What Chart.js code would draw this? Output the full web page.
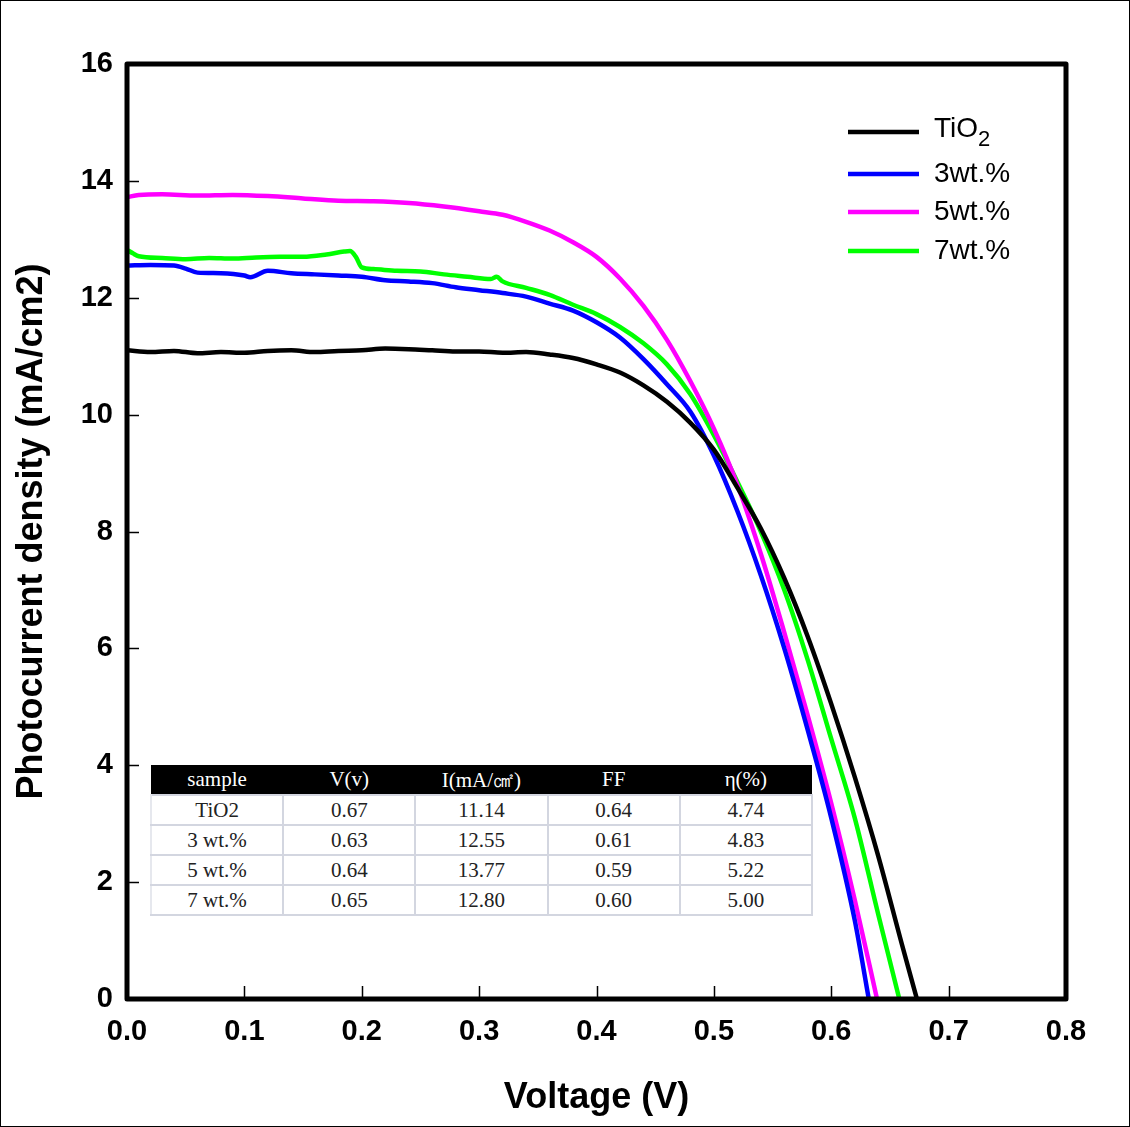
<!DOCTYPE html>
<html>
<head>
<meta charset="utf-8">
<script src="https://cdn.jsdelivr.net/npm/chart.js@4/dist/chart.umd.min.js"></script>
<style>
  html, body { margin: 0; padding: 0; background: #fff; }
  #wrap { position: relative; width: 1130px; height: 1127px; }
  #chart { position: absolute; left: 0; top: 0; }
  #params {
    position: absolute; left: 150px; top: 765px; width: 663px;
    border-collapse: collapse; background: #fff;
    font-family: "Liberation Serif", "Times New Roman", serif; font-size: 21px; color: #222;
  }
  #params th, #params td { text-align: center; padding: 0; width: 20%; }
  #params th { background: #000; color: #fff; font-weight: normal; height: 29px; }
  #params td { height: 28px; border: 2px solid #d3d6e0; }
  #params tr td:first-child { border-left: 2px solid #e6e8ee; }
</style>
</head>
<body>
<div id="wrap">
  <canvas id="chart" width="1130" height="1127"></canvas>
  <table id="params">
    <thead><tr id="paramHead"></tr></thead>
    <tbody id="paramBody"></tbody>
  </table>
</div>
<script>
// J-V curves (V in volts, J in mA/cm2)
const seriesNames = ["TiO2", "3wt.%", "5wt.%", "7wt.%"];
const seriesColors = ["#000000", "#0000ff", "#ff00ff", "#00ff00"];

const tio2V = [0, 0.02, 0.04, 0.06, 0.08, 0.10, 0.12, 0.14, 0.16, 0.18, 0.20, 0.22, 0.24, 0.26, 0.28, 0.30, 0.32, 0.34, 0.36, 0.38, 0.40, 0.42, 0.44, 0.46, 0.48, 0.50, 0.52, 0.54, 0.56, 0.58, 0.60, 0.62, 0.64, 0.66, 0.673];
const tio2J = [11.10, 11.07, 11.09, 11.05, 11.07, 11.06, 11.09, 11.10, 11.07, 11.09, 11.10, 11.13, 11.12, 11.10, 11.08, 11.08, 11.06, 11.07, 11.03, 10.97, 10.86, 10.72, 10.50, 10.22, 9.86, 9.40, 8.75, 8.05, 7.20, 6.20, 5.05, 3.80, 2.45, 0.95, 0];

const wt3V = [0, 0.02, 0.04, 0.05, 0.06, 0.08, 0.10, 0.105, 0.12, 0.14, 0.16, 0.18, 0.20, 0.22, 0.24, 0.26, 0.28, 0.30, 0.32, 0.34, 0.36, 0.38, 0.40, 0.42, 0.44, 0.46, 0.48, 0.50, 0.52, 0.54, 0.56, 0.58, 0.60, 0.62, 0.632];
const wt3J = [12.55, 12.56, 12.55, 12.50, 12.43, 12.42, 12.38, 12.35, 12.46, 12.42, 12.40, 12.38, 12.36, 12.30, 12.28, 12.25, 12.18, 12.13, 12.08, 12.02, 11.90, 11.78, 11.58, 11.32, 10.95, 10.52, 10.05, 9.30, 8.35, 7.25, 6.00, 4.60, 3.10, 1.35, 0];

const wt5V = [0, 0.01, 0.03, 0.06, 0.09, 0.12, 0.15, 0.18, 0.21, 0.24, 0.27, 0.30, 0.32, 0.34, 0.36, 0.38, 0.40, 0.42, 0.44, 0.46, 0.48, 0.50, 0.52, 0.54, 0.56, 0.58, 0.60, 0.62, 0.639];
const wt5J = [13.72, 13.76, 13.77, 13.75, 13.76, 13.74, 13.70, 13.66, 13.65, 13.62, 13.56, 13.48, 13.42, 13.30, 13.15, 12.95, 12.70, 12.33, 11.86, 11.28, 10.57, 9.76, 8.80, 7.62, 6.27, 4.85, 3.35, 1.70, 0];

const wt7V = [0, 0.005, 0.01, 0.03, 0.05, 0.07, 0.09, 0.11, 0.13, 0.15, 0.17, 0.185, 0.19, 0.195, 0.20, 0.21, 0.23, 0.25, 0.27, 0.29, 0.31, 0.315, 0.32, 0.34, 0.36, 0.38, 0.40, 0.42, 0.44, 0.46, 0.48, 0.50, 0.52, 0.54, 0.56, 0.58, 0.60, 0.62, 0.64, 0.658];
const wt7J = [12.82, 12.76, 12.71, 12.68, 12.66, 12.68, 12.67, 12.69, 12.70, 12.70, 12.74, 12.79, 12.80, 12.70, 12.52, 12.49, 12.46, 12.45, 12.40, 12.36, 12.32, 12.36, 12.28, 12.17, 12.05, 11.88, 11.72, 11.50, 11.22, 10.86, 10.35, 9.65, 8.85, 8.00, 7.00, 5.80, 4.45, 3.10, 1.45, 0];

const voltages = [tio2V, wt3V, wt5V, wt7V];
const currents = [tio2J, wt3J, wt5J, wt7J];

// inset table
const tableHeader = ["sample", "V(v)", "I(mA/㎠)", "FF", "η(%)"];
const tableSamples = ["TiO2", "3 wt.%", "5 wt.%", "7 wt.%"];
const tableVoc = ["0.67", "0.63", "0.64", "0.65"];
const tableJsc = ["11.14", "12.55", "13.77", "12.80"];
const tableFF = ["0.64", "0.61", "0.59", "0.60"];
const tableEff = ["4.74", "4.83", "5.22", "5.00"];

const xTicksMin = 0, xTicksMax = 0.8, xStep = 0.1;
const yTicksMin = 0, yTicksMax = 16, yStep = 2;

const SANS = '"Liberation Sans", Arial, sans-serif';

document.getElementById("paramHead").innerHTML = tableHeader.map((h) => `<th>${h}</th>`).join("");
document.getElementById("paramBody").innerHTML = tableSamples
  .map((s, i) => `<tr><td>${s}</td><td>${tableVoc[i]}</td><td>${tableJsc[i]}</td><td>${tableFF[i]}</td><td>${tableEff[i]}</td></tr>`)
  .join("");

const framePlugin = {
  id: "frame",
  afterDatasetsDraw(chart) {
    const { ctx, chartArea: a, scales } = chart;
    ctx.save();
    ctx.strokeStyle = "#000";
    // inward ticks, bottom and left only
    ctx.lineWidth = 1.5;
    ctx.beginPath();
    scales.x.ticks.forEach((t) => {
      if (t.value <= xTicksMin || t.value >= xTicksMax - 1e-9) return;
      const px = Math.round(scales.x.getPixelForValue(t.value)) + 0.5;
      ctx.moveTo(px, a.bottom);
      ctx.lineTo(px, a.bottom - 13);
    });
    scales.y.ticks.forEach((t) => {
      if (t.value <= yTicksMin || t.value >= yTicksMax) return;
      const py = Math.round(scales.y.getPixelForValue(t.value)) + 0.5;
      ctx.moveTo(a.left, py);
      ctx.lineTo(a.left + 12, py);
    });
    ctx.stroke();
    ctx.lineWidth = 5;
    ctx.lineJoin = "round";
    ctx.strokeRect(a.left, a.top, a.right - a.left, a.bottom - a.top);
    ctx.restore();
  },
  afterDraw(chart) {
    const { ctx, width, height } = chart;
    ctx.save();
    ctx.lineWidth = 1;
    ctx.strokeStyle = "#000";
    ctx.strokeRect(0.5, 0.5, width - 1, height - 1);
    ctx.restore();
  },
};

const legendPlugin = {
  id: "insetLegend",
  afterDatasetsDraw(chart) {
    const { ctx } = chart;
    const rows = [132, 174, 212, 251];
    ctx.save();
    ctx.textBaseline = "middle";
    ctx.fillStyle = "#000";
    chart.data.datasets.forEach((ds, i) => {
      const y = rows[i];
      ctx.strokeStyle = ds.borderColor;
      ctx.lineWidth = 4.5;
      ctx.beginPath();
      ctx.moveTo(848, y);
      ctx.lineTo(919, y);
      ctx.stroke();
      const m = /^([A-Za-z]+)(\d+)$/.exec(ds.label);
      ctx.font = `28px ${SANS}`;
      if (m) {
        ctx.fillText(m[1], 934, y - 3);
        const w = ctx.measureText(m[1]).width;
        ctx.font = `22px ${SANS}`;
        ctx.fillText(m[2], 934 + w, y + 8);
      } else {
        ctx.fillText(ds.label, 934, y);
      }
    });
    ctx.restore();
  },
};

new Chart(document.getElementById("chart"), {
  type: "line",
  data: {
    datasets: seriesNames.map((name, i) => ({
      label: name,
      data: voltages[i].map((v, k) => ({ x: v, y: currents[i][k] })),
      borderColor: seriesColors[i],
      backgroundColor: seriesColors[i],
      borderWidth: 4.5,
      pointRadius: 0,
      cubicInterpolationMode: "monotone",
      fill: false,
    })),
  },
  options: {
    responsive: false,
    animation: false,
    layout: { padding: { top: 64, right: 64, left: 0, bottom: 0 } },
    plugins: { legend: { display: false }, tooltip: { enabled: false } },
    scales: {
      x: {
        type: "linear",
        min: xTicksMin,
        max: xTicksMax,
        afterFit(scale) { scale.height = 128; },
        grid: { display: false, drawTicks: false },
        border: { display: false },
        ticks: {
          stepSize: xStep,
          padding: 16,
          color: "#000",
          font: { family: SANS, size: 29, weight: "bold" },
          callback: (v) => v.toFixed(1),
        },
        title: {
          display: true,
          text: "Voltage (V)",
          color: "#000",
          font: { family: SANS, size: 36, weight: "bold" },
          padding: { top: 0, bottom: 7 },
        },
      },
      y: {
        type: "linear",
        min: yTicksMin,
        max: yTicksMax,
        afterFit(scale) { scale.width = 127; },
        grid: { display: false, drawTicks: false },
        border: { display: false },
        ticks: {
          stepSize: yStep,
          padding: 14,
          color: "#000",
          font: { family: SANS, size: 29, weight: "bold" },
        },
        title: {
          display: true,
          text: "Photocurrent density (mA/cm2)",
          color: "#000",
          font: { family: SANS, size: 36, weight: "bold" },
          padding: { top: 10, bottom: 0 },
        },
      },
    },
  },
  plugins: [framePlugin, legendPlugin],
});
</script>
</body>
</html>
